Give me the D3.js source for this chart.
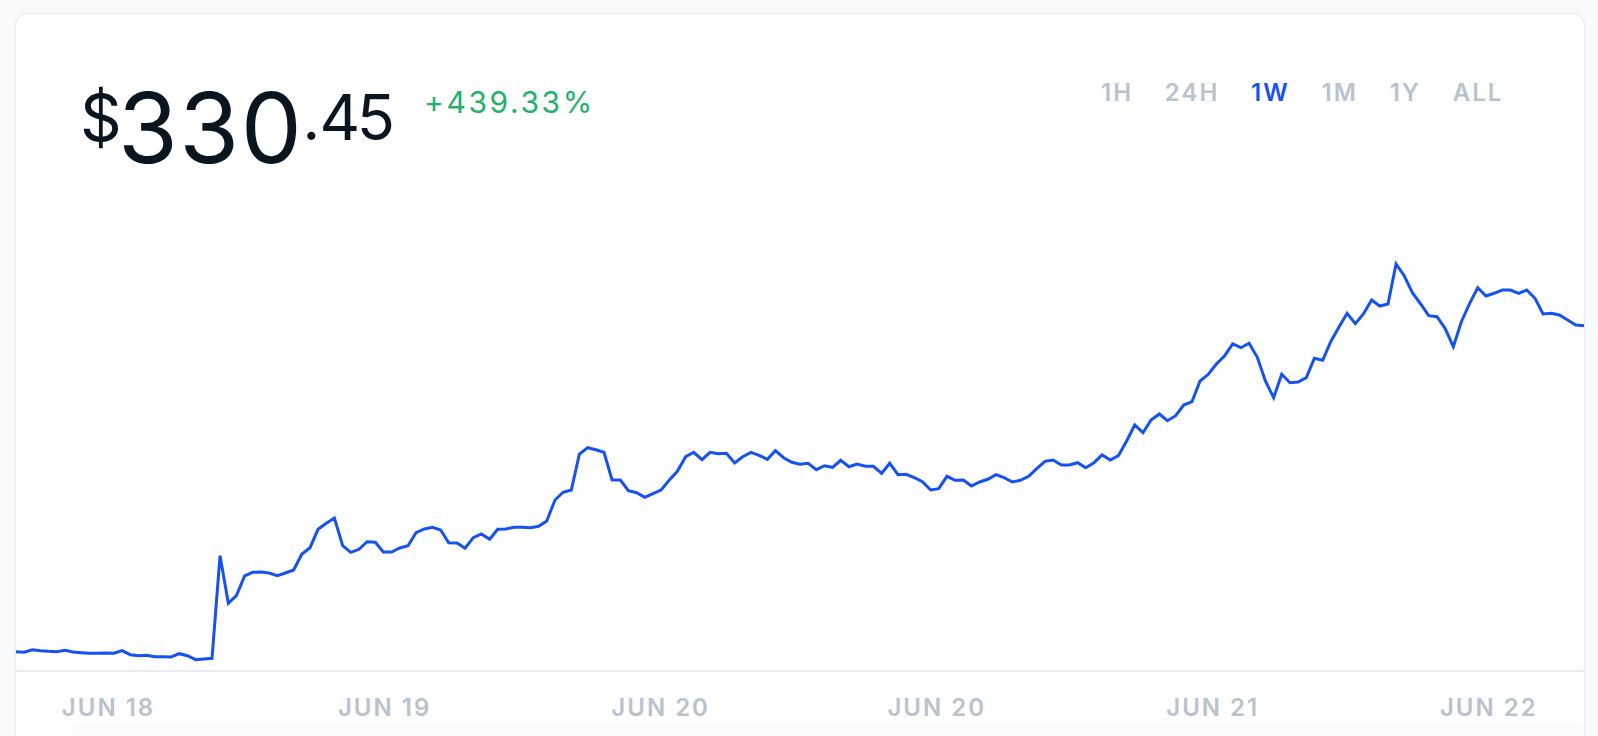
<!DOCTYPE html>
<html><head><meta charset="utf-8">
<script src="https://cdn.jsdelivr.net/npm/d3@7"></script>
<style>
html,body{margin:0;padding:0;background:#f9fafb;overflow:hidden;}
svg{display:block;}
text{font-family:Inter,"Noto Sans",sans-serif;}
</style></head><body><svg id="c" width="1598" height="736"></svg>
<script>
// ---- data ----
const currency = "$";
const priceWhole = "330";
const priceCents = ".45";
const changeLabel = "+439.33%";
const periods = ["1H", "24H", "1W", "1M", "1Y", "ALL"];
const activePeriod = "1W";
const startTime = "2019-06-18T03:20";
const stepMinutes = 35.5;
const values = [
  61.27, 60.77, 62.92, 62.10, 61.60, 61.27, 62.43, 61.02, 60.44, 59.95,
  59.95, 60.20, 59.95, 62.10, 58.79, 57.97, 58.30, 57.14, 57.14, 56.89,
  59.62, 57.97, 54.66, 55.24, 55.82,
  140.54, 101.23, 107.51, 123.78, 126.83, 127.08, 126.25, 124.02, 126.25, 128.73,
  141.69, 147.14, 162.34, 167.29, 171.67, 148.79, 143.34, 145.82, 152.10, 151.60,
  143.59, 143.59, 146.90, 148.79, 159.53, 162.58, 163.99, 161.76, 151.27, 151.02,
  146.65, 155.40, 158.45, 154.08, 162.34, 162.58, 163.99, 163.99, 163.66, 164.81,
  169.19,
  186.53, 192.89, 194.79, 224.51, 229.71, 228.06, 225.91, 203.04, 203.04, 194.21,
  192.56, 188.76, 191.73, 194.79, 203.04, 210.23, 222.28, 225.91, 219.80, 225.91,
  224.76, 225.09, 217.08, 222.28, 225.91, 223.44, 220.13, 227.24, 221.46, 217.66,
  216.01, 216.83, 211.55, 214.85, 213.53, 219.31, 214.02, 216.25, 214.35, 214.35,
  208.57, 216.83, 207.42, 207.75, 204.94, 201.64, 194.79, 195.86, 206.10, 202.80,
  203.04, 198.09, 201.39, 203.62, 207.42, 204.94, 201.39, 202.80, 206.10, 212.37,
  218.48, 219.56, 215.43,
  215.43, 217.33, 213.20, 217.33, 223.68, 219.56, 223.11, 235.24, 248.46, 242.10,
  252.58, 257.54, 252.01, 256.14, 264.97, 267.70, 284.79, 290.32, 298.82, 305.68,
  315.34, 312.28, 315.92, 304.36, 284.79, 271.00, 290.32, 283.38, 283.96, 287.51,
  303.53, 301.88, 317.24, 329.37, 340.69, 332.10, 340.11, 351.67, 346.71, 348.37,
  381.39, 371.49, 357.70, 348.37, 338.71, 337.88, 328.30, 313.11, 333.75, 348.94,
  361.82, 354.97, 357.20, 359.93, 359.93, 357.20, 359.93, 353.07, 340.11, 340.69,
  339.28, 335.16, 331.03, 330.45
];
const tickTimes = [
  "2019-06-18T10:00", "2019-06-19T06:00", "2019-06-20T02:00",
  "2019-06-20T22:00", "2019-06-21T18:00", "2019-06-22T14:00"
];

// ---- build ----
const parse = d3.timeParse("%Y-%m-%dT%H:%M");
const t0 = parse(startTime);
const series = values.map((v, i) => ({ t: d3.timeMinute.offset(t0, Math.round(i * stepMinutes * 60) / 60), v }));
const svg = d3.select("#c");

// card
svg.append("rect").attr("x", 15.5).attr("y", 13.5).attr("width", 1569).attr("height", 780)
  .attr("rx", 12).attr("fill", "#ffffff").attr("stroke", "#e6eaee").attr("stroke-width", 1.2);
svg.append("rect").attr("x", 72).attr("y", 723).attr("width", 1512).attr("height", 60)
  .attr("rx", 12).attr("fill", "#fafbfc");

// header price
const dark = "#0b1520";
svg.append("text").attr("x", 80).attr("y", 141).attr("font-size", 65).attr("fill", dark).text(currency);
const whole = svg.append("text").attr("x", 118).attr("y", 163).attr("font-size", 97).attr("fill", dark);
priceWhole.split("").forEach((ch, i) => whole.append("tspan").attr("dx", i ? 1.4 : 0).text(ch));
const wholeBox = whole.node().getBBox();
const cents = svg.append("text").attr("x", Math.max(301, wholeBox.x + wholeBox.width + 0.5))
  .attr("y", 139.5).attr("font-size", 63).attr("fill", dark);
cents.append("tspan").text(priceCents.slice(0, 1));
cents.append("tspan").attr("dx", -1).text(priceCents.slice(1, 2));
cents.append("tspan").attr("dx", -3.5).text(priceCents.slice(2));
svg.append("text").attr("x", 424).attr("y", 113).attr("font-size", 30).attr("letter-spacing", 2.6)
  .attr("fill", "#1fb26b").text(changeLabel);

// period tabs
const tabG = svg.append("g");
let tx = 1101;
periods.forEach(p => {
  const t = tabG.append("text").attr("x", tx).attr("y", 101)
    .attr("font-size", 24).attr("font-weight", 600).attr("letter-spacing", 2)
    .attr("fill", p === activePeriod ? "#1652f0" : "#b9c3cd").text(p);
  tx += t.node().getComputedTextLength() + 31.8;
});

// scales
const x = d3.scaleTime().domain(d3.extent(series, d => d.t)).range([16, 1584]);
const y = d3.scaleLinear().domain(d3.extent(values)).range([659.7, 264]);

// axis
const fmt = d3.timeFormat("%b %d");
const axis = d3.axisBottom(x).tickValues(tickTimes.map(parse)).tickSize(0)
  .tickFormat(d => fmt(d).toUpperCase());
const ax = svg.append("g").attr("transform", "translate(0,671)").call(axis);
ax.select(".domain").attr("stroke", "#e9edf1").attr("stroke-width", 2)
  .attr("d", "M16,0H1585");
ax.selectAll(".tick text").attr("y", 45).attr("dy", 0)
  .attr("font-family", "Inter, sans-serif").attr("font-size", 24).attr("font-weight", 600)
  .attr("letter-spacing", 2).attr("fill", "#b9c3cd");

// line
svg.append("path").datum(series)
  .attr("fill", "none").attr("stroke", "#1652f0").attr("stroke-width", 3)
  .attr("d", d3.line().x(d => x(d.t)).y(d => y(d.v)));
</script></body></html>
